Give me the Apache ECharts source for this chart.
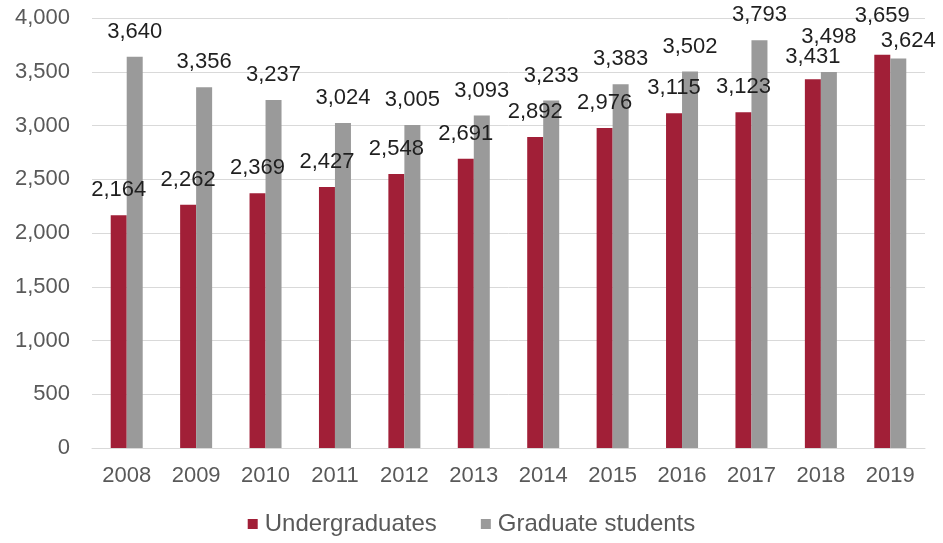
<!DOCTYPE html>
<html>
<head>
<meta charset="utf-8">
<script src="https://cdn.jsdelivr.net/npm/echarts@6/dist/echarts.min.js"></script>
<style>
  html, body { margin: 0; padding: 0; background: #fff; }
  #chart { width: 943px; height: 543px; }
</style>
</head>
<body>
<div id="chart"></div>
<script>
// Enrollment by academic year
const years = ['2008', '2009', '2010', '2011', '2012', '2013', '2014', '2015', '2016', '2017', '2018', '2019'];
const undergraduates = [2164, 2262, 2369, 2427, 2548, 2691, 2892, 2976, 3115, 3123, 3431, 3659];
const graduateStudents = [3640, 3356, 3237, 3024, 3005, 3093, 3233, 3383, 3502, 3793, 3498, 3624];

// Label nudges where neighbouring labels would collide
const undergradLabelOffsets = { 10: [0, 3], 11: [0, -14] };
const gradLabelOffsets = { 10: [0, -10], 11: [10, 8] };

const FONT = '"Liberation Sans", Arial, sans-serif';
const fmt = v => v.toLocaleString('en-US');

function buildData(values, offsets) {
  return values.map((v, i) => {
    const item = { value: v };
    if (offsets[i]) item.label = { offset: offsets[i] };
    return item;
  });
}

const labelStyle = {
  show: true,
  position: 'top',
  distance: 14,
  fontFamily: FONT,
  fontSize: 22,
  color: '#1f1f1f',
  formatter: p => fmt(p.value)
};

const chart = echarts.init(document.getElementById('chart'), null, { renderer: 'canvas' });
chart.setOption({
  animation: false,
  backgroundColor: '#ffffff',
  grid: { left: 92, right: 18, top: 18, bottom: 95 },
  legend: {
    bottom: 2,
    left: 'center',
    itemWidth: 10,
    itemHeight: 10,
    itemGap: 44,
    icon: 'rect',
    textStyle: { fontFamily: FONT, fontSize: 24, color: '#595959', padding: [0, 0, 0, 2] },
    data: ['Undergraduates', 'Graduate students']
  },
  xAxis: {
    type: 'category',
    data: years,
    axisTick: { show: false },
    axisLine: { lineStyle: { color: '#d9d9d9', width: 1 } },
    axisLabel: { fontFamily: FONT, fontSize: 22, color: '#595959', margin: 17 }
  },
  yAxis: {
    type: 'value',
    min: 0,
    max: 4000,
    interval: 500,
    axisLabel: { fontFamily: FONT, fontSize: 22, color: '#595959', margin: 22, formatter: v => fmt(v) },
    splitLine: { lineStyle: { color: '#d9d9d9', width: 1 } },
    axisLine: { show: false },
    axisTick: { show: false }
  },
  series: [
    {
      name: 'Undergraduates',
      type: 'bar',
      data: buildData(undergraduates, undergradLabelOffsets),
      itemStyle: { color: '#A11F37' },
      barWidth: 16,
      barGap: '0%',
      label: labelStyle
    },
    {
      name: 'Graduate students',
      type: 'bar',
      data: buildData(graduateStudents, gradLabelOffsets),
      itemStyle: { color: '#9A9A9A' },
      barWidth: 16,
      barGap: '0%',
      label: labelStyle
    }
  ]
});
</script>
</body>
</html>
